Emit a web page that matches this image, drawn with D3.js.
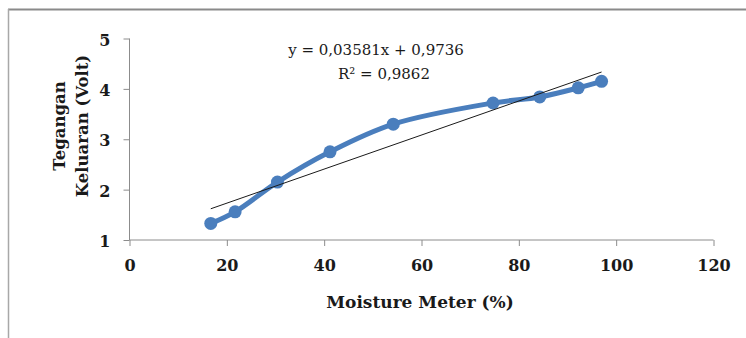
<!DOCTYPE html>
<html>
<head>
<meta charset="utf-8">
<script src="https://cdn.jsdelivr.net/npm/d3@7"></script>
<style>
  html, body { margin: 0; padding: 0; background: #fff; }
  svg { display: block; }
</style>
</head>
<body>
<div id="chart"></div>
<script>
// data
const moisture = [16.7, 21.7, 30.4, 41.2, 54.2, 74.7, 84.3, 92.2, 97.0];
const voltage  = [1.33, 1.56, 2.15, 2.75, 3.30, 3.72, 3.84, 4.02, 4.15];
const xTicks = [0, 20, 40, 60, 80, 100, 120];
const yTicks = [1, 2, 3, 4, 5];
const equationLines = ['y = 0,03581x + 0,9736', 'R² = 0,9862'];
const xTitle = 'Moisture Meter (%)';
const yTitleLines = ['Tegangan', 'Keluaran (Volt)'];

const W = 746, H = 338;
const blue = '#4a7ebd';
const axisGray = '#8c8c8c';
const ink = '#1a1a1a';
const serif = '"DejaVu Serif", "Liberation Serif", serif';

const svg = d3.select('#chart').append('svg')
  .attr('width', W).attr('height', H);

// outer frame (only top and left edges visible)
svg.append('line').attr('x1', 8).attr('x2', W).attr('y1', 9.5).attr('y2', 9.5)
  .attr('stroke', '#8a8a8a').attr('stroke-width', 2);
svg.append('line').attr('x1', 8.5).attr('x2', 8.5).attr('y1', 9).attr('y2', H)
  .attr('stroke', '#a8a8a8').attr('stroke-width', 1.5);

// scales
const x = d3.scaleLinear().domain([0, 120]).range([129.5, 713.5]);
const y = d3.scaleLinear().domain([1, 5]).range([240, 38.5]);

// --- eixo X ---
const xAxis = svg.append('g')
  .attr('transform', `translate(0,${y(1)})`)
  .call(d3.axisBottom(x).tickValues(xTicks).tickSize(6).tickPadding(14).tickFormat(d3.format('d')));
xAxis.select('.domain').attr('stroke', axisGray).attr('d', `M${x(0)},0H${x(120)}`);
xAxis.selectAll('line').attr('stroke', axisGray);
xAxis.selectAll('text')
  .style('font-family', serif).style('font-size', '16px').style('font-weight', 'bold').style('fill', ink);

// --- eixo Y ---
const yAxis = svg.append('g')
  .attr('transform', `translate(${x(0)},0)`)
  .call(d3.axisLeft(y).tickValues(yTicks).tickSize(6).tickPadding(13).tickFormat(d3.format('d')));
yAxis.select('.domain').attr('stroke', axisGray).attr('d', `M0,${y(5)}V${y(1)}`);
yAxis.selectAll('line').attr('stroke', axisGray);
yAxis.selectAll('text')
  .attr('dy', '0.42em')
  .style('font-family', serif).style('font-size', '16px').style('font-weight', 'bold').style('fill', ink);

// axis titles
svg.append('text')
  .attr('x', 420).attr('y', 308)
  .attr('text-anchor', 'middle')
  .style('font-family', serif).style('font-size', '17px').style('font-weight', 'bold').style('fill', ink)
  .text(xTitle);

const yTitle = svg.append('text')
  .attr('transform', 'translate(0,126) rotate(-90)')
  .attr('text-anchor', 'middle')
  .style('font-family', serif).style('font-size', '16.5px').style('font-weight', 'bold').style('fill', ink);
yTitleLines.forEach((t, i) => {
  yTitle.append('tspan').attr('x', 0).attr('y', i === 0 ? 65 : 88).text(t);
});

// --- data line ---
const pts = moisture.map((m, i) => ({ x: m, y: voltage[i] }));
const line = d3.line().curve(d3.curveCatmullRom.alpha(0.5)).x(d => x(d.x)).y(d => y(d.y));

svg.append('path')
  .datum(pts)
  .attr('fill', 'none')
  .attr('stroke', blue)
  .attr('stroke-width', 5)
  .attr('stroke-linejoin', 'round')
  .attr('d', line);

svg.selectAll('circle.pt')
  .data(pts)
  .enter().append('circle')
  .attr('class', 'pt')
  .attr('cx', d => x(d.x)).attr('cy', d => y(d.y))
  .attr('r', 6.5)
  .attr('fill', blue);

// --- linear trendline (least squares on the points) ---
const mx = d3.mean(moisture), my = d3.mean(voltage);
const sxy = d3.sum(moisture, (m, i) => (m - mx) * (voltage[i] - my));
const sxx = d3.sum(moisture, m => (m - mx) * (m - mx));
const slope = sxy / sxx, icpt = my - slope * mx;
const xr = d3.extent(moisture);
svg.append('line')
  .attr('x1', x(xr[0])).attr('y1', y(slope * xr[0] + icpt))
  .attr('x2', x(xr[1])).attr('y2', y(slope * xr[1] + icpt))
  .attr('stroke', ink).attr('stroke-width', 1);

// equation label
const eq = svg.append('text')
  .attr('text-anchor', 'middle')
  .style('font-family', serif).style('font-size', '15px').style('fill', ink);
eq.append('tspan').attr('x', 376).attr('y', 55).text(equationLines[0]);
eq.append('tspan').attr('x', 384).attr('y', 79).text(equationLines[1]);
</script>
</body>
</html>
